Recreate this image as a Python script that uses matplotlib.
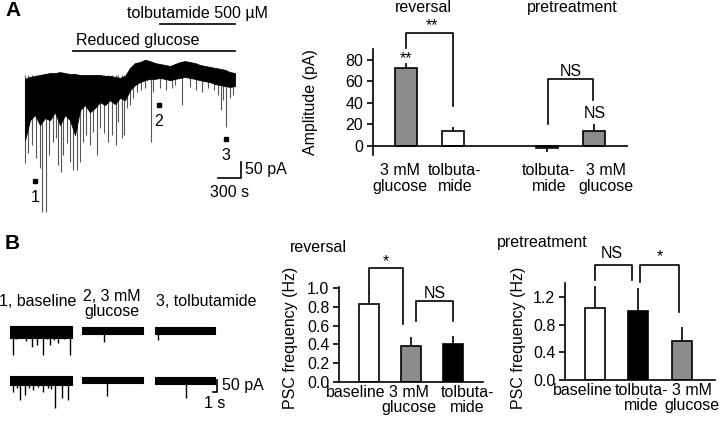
import numpy as np
import matplotlib
matplotlib.use("Agg")
import matplotlib.pyplot as plt

plt.rcParams['font.family'] = ['Liberation Sans', 'DejaVu Sans']
plt.rcParams['font.size'] = 11.5
plt.rcParams['axes.linewidth'] = 1.2

# ---------------- panel A, long recording (time s, current pA) ----------------
a_t = [0, 65, 130, 195, 260, 325, 390, 455, 520, 585, 650, 715, 780, 845, 910,
       975, 1040, 1105, 1170, 1235, 1300, 1365, 1430, 1495, 1560, 1625, 1690,
       1755, 1820, 1885, 1950, 2015, 2080, 2145, 2210, 2275, 2340, 2405, 2470,
       2535, 2600, 2665, 2730]
a_top = [-12, -6, -3, 0, 3, 6, 6, 9, 6, 3, 3, 0, 0, 0, 0, 0, -3, -3, -6, -9,
         -3, 22, 37, 40, 47, 43, 37, 34, 31, 28, 34, 40, 43, 40, 37, 31, 28, 25,
         22, 19, 16, 9, 6]
a_bot = [-202, -140, -124, -155, -133, -140, -115, -155, -124, -140, -186, -109,
         -93, -115, -102, -84, -93, -78, -90, -71, -78, -47, -31, -22, -16, -12,
         -12, -9, -12, -16, -12, -9, -6, -9, -12, -16, -19, -22, -28, -31, -34,
         -37, -34]
# individual large events (time, peak)
a_spk_t = [0, 39, 91, 143, 195, 221, 273, 312, 364, 403, 429, 468, 494, 546,
           585, 624, 676, 715, 754, 793, 845, 884, 936, 975, 1027, 1079, 1131,
           1183, 1209, 1261, 1287, 1326, 1365, 1404, 1456, 1508, 1560, 1638,
           1664, 1755, 1833, 1911, 1950, 2041, 2145, 2223, 2301, 2379, 2457,
           2509, 2548, 2574, 2613, 2665, 2704]
a_spk_i = [-273, -242, -217, -257, -288, -425, -425, -248, -208, -195, -279,
           -301, -248, -211, -270, -295, -295, -270, -208, -186, -217, -177,
           -248, -164, -180, -208, -186, -217, -146, -195, -186, -102, -93, -71,
           -53, -47, -40, -208, -53, -40, -47, -40, -31, -93, -37, -47, -53,
           -40, -47, -62, -109, -78, -161, -71, -62]
glucose_on, tolb_on, rec_end = 624, 1755, 2730
sample_t = [130, 1742, 2613]
sample_i = [-329, -93, -198]
sample_lab = ['1', '2', '3']

# ---------------- panel A, amplitude bars ----------------
a_pos = [0, 1, 3, 4]
a_amp = [72, 13.5, -2, 13.5]
a_sem = [5, 4, 3.5, 7]
a_col = ['#8c8c8c', 'white', '#8c8c8c', '#8c8c8c']
a_lab = ['3 mM\nglucose', 'tolbuta-\nmide', 'tolbuta-\nmide', '3 mM\nglucose']
a_lab_pos = [-0.13, 1.04, 3.04, 4.26]
# brackets: x0, x1, top, left end, right end, label, label x, label y
a_brk = [(0, 1, 105, 91, 37, '**', 0.55, 112),
         (3.02, 3.98, 62, 20, 43, 'NS', 3.5, 69)]
a_marks = [(0, 81, '**'), (4.02, 30, 'NS')]

# ---------------- panel B, example traces (time s, current pA) ----------------
b_names = ['1, baseline', '2, 3 mM\nglucose', '3, tolbutamide']
b_dur = [15.5, 15.25, 15.0]
b_band = [[(4, -46), (0, -29), (0, -29)],
          [(4, -33), (0, -25), (0, -29)]]
b_spk_t = [[[0.75, 1.5, 3.0, 4.0, 5.5, 6.75, 8.25, 9.25, 10.0, 11.0, 12.0, 13.5, 15.0],
            [5.5], [0.75]],
           [[0.75, 1.75, 2.5, 3.75, 4.75, 5.75, 7.0, 8.25, 9.5, 10.25, 11.25, 13.0, 14.5],
            [6.25], [7.75]]]
b_spk_i = [[[-117, -50, -46, -58, -83, -75, -117, -50, -75, -54, -67, -50, -117],
            [-63], [-54]],
           [[-63, -46, -96, -75, -46, -54, -42, -63, -46, -50, -129, -88, -96],
            [-79], [-88]]]

# ---------------- panel B, PSC frequency ----------------
rev_lab = ['baseline', '3 mM\nglucose', 'tolbuta-\nmide']
rev_lab_pos = [-0.31, 0.96, 2.33]
rev_val = [0.83, 0.38, 0.40]
rev_sem = [0.13, 0.10, 0.09]
rev_col = ['white', '#8c8c8c', 'black']
rev_brk = [(0, 0.81, 1.21, 0.96, 0.62, '*', 0.4, 1.28),
           (1.12, 2.0, 0.86, 0.65, 0.65, 'NS', 1.57, 0.94)]

pre_lab = ['baseline', 'tolbuta-\nmide', '3 mM\nglucose']
pre_lab_pos = [-0.28, 1.07, 2.22]
pre_val = [1.04, 1.0, 0.56]
pre_sem = [0.32, 0.33, 0.20]
pre_col = ['white', 'black', '#8c8c8c']
pre_brk = [(0, 0.85, 1.66, 1.44, 1.44, 'NS', 0.39, 1.83),
           (1.03, 1.93, 1.66, 1.42, 0.98, '*', 1.49, 1.78)]

fig = plt.figure(figsize=(7.2, 4.23), dpi=100)


def px_axes(x0, y0, x1, y1):
    return fig.add_axes([x0 / 720, 1 - y1 / 423, (x1 - x0) / 720, (y1 - y0) / 423])


def bracket(ax, b):
    x0, x1, top, y0, y1, lab, lx, ly = b
    ax.plot([x0, x0, x1, x1], [y0, top, top, y1], color='k', lw=1.2, clip_on=False)
    ax.text(lx, ly, lab, ha='center', va='center', clip_on=False)


def bars(ax, pos, val, sem, col, width):
    ax.bar(pos, val, width=width, color=col, edgecolor='k', lw=1.2, zorder=2)
    tips = [v + np.sign(v) * s for v, s in zip(val, sem)]
    ax.vlines(pos, val, tips, color='k', lw=1.2, zorder=1)
    for s in ['top', 'right']:
        ax.spines[s].set_visible(False)
    ax.tick_params(axis='y', direction='out', length=4, width=1.2, pad=3)
    ax.tick_params(axis='x', length=0)


# A trace
ax = px_axes(0, 0, 290, 215)
ax.set_xlim(-325, 3445)
ax.set_ylim(-434, 232.5)
ax.axis('off')
ax.vlines(a_spk_t, a_spk_i, 0, color='#555555', lw=0.8, zorder=1)
ax.fill_between(a_t, a_bot, a_top, color='k', lw=0.6, zorder=2)
ax.plot([glucose_on, rec_end], [74, 74], color='k', lw=1.2)
ax.text(glucose_on + 40, 108, 'Reduced glucose', va='center')
ax.plot([tolb_on, rec_end], [158, 158], color='k', lw=1.2)
ax.text(1326, 192, 'tolbutamide 500 µM', va='center')
ax.plot(sample_t, sample_i, 's', ms=2.3, color='k')
for t, i, s in zip(sample_t, sample_i, sample_lab):
    ax.text(t, i - 50, s, ha='center', va='center')
ax.plot([2509, 2809, 2809], [-319, -319, -269], color='k', lw=1.2)
ax.text(2861, -294, '50 pA', va='center')
ax.text(2665, -363, '300 s', ha='center', va='center')

# A bars
axa = px_axes(373, 49, 628, 155)
bars(axa, a_pos, a_amp, a_sem, a_col, 0.47)
axa.spines['bottom'].set_visible(False)
axa.axhline(0, color='k', lw=1.2)
axa.set_xlim(-0.70, 4.72)
axa.set_ylim(-8.4, 90)
axa.set_yticks([0, 20, 40, 60, 80])
axa.set_xticks(a_lab_pos, a_lab, linespacing=1.05)
axa.tick_params(axis='x', pad=6)
axa.set_ylabel('Amplitude (pA)', va='center')
axa.yaxis.set_label_coords(-0.247, 0.5)
for b in a_brk:
    bracket(axa, b)
for x, y, s in a_marks:
    axa.text(x, y, s, ha='center', va='center')
axa.text(0.38, 1.387, 'reversal', ha='center', va='center',
         transform=axa.get_xaxis_transform())
axa.text(3.53, 1.387, 'pretreatment', ha='center', va='center',
         transform=axa.get_xaxis_transform())

# B traces
axt = px_axes(0, 280, 280, 415)
axt.set_xlim(-2.5, 67.5)
axt.set_ylim(-367, 196)
axt.axis('off')
offs = [0, 18, 36.25]
rows = [0, -208]
for r, r0 in enumerate(rows):
    for k, x0 in enumerate(offs):
        top, bot = b_band[r][k]
        st = [x0 + t for t in b_spk_t[r][k]]
        axt.vlines(st, [r0 + v for v in b_spk_i[r][k]], r0, color='k', lw=1.0)
        axt.fill_between([x0, x0 + b_dur[k]], r0 + bot, r0 + top, color='k', lw=0.8)
axt.text(7, 108, b_names[0], ha='center', va='center')
axt.text(25.5, 96, b_names[1], ha='center', va='center', linespacing=1.0)
axt.text(49, 108, b_names[2], ha='center', va='center')
axt.plot([50.75, 51.75, 51.75], [-271, -271, -221], color='k', lw=1.2)
axt.text(53, -242, '50 pA', va='center')
axt.text(51.25, -317, '1 s', ha='center', va='center')

# B reversal
axr = px_axes(339, 287, 483, 382)
bars(axr, [0, 1, 2], rev_val, rev_sem, rev_col, 0.48)
axr.set_xlim(-0.71, 2.71)
axr.set_ylim(0, 1.01)
axr.set_yticks([0, 0.2, 0.4, 0.6, 0.8, 1.0], ['0.0', '0.2', '0.4', '0.6', '0.8', '1.0'])
axr.set_xticks(rev_lab_pos, rev_lab, linespacing=1.05)
axr.tick_params(axis='x', pad=2)
axr.set_ylabel('PSC frequency (Hz)', va='center')
axr.yaxis.set_label_coords(-0.34, 0.463)
for b in rev_brk:
    bracket(axr, b)
axr.text(-0.34, 1.42, 'reversal', va='center', transform=axr.transAxes)

# B pretreatment
axp = px_axes(565, 283, 715, 380)
bars(axp, [0, 1, 2], pre_val, pre_sem, pre_col, 0.46)
axp.set_xlim(-0.69, 2.76)
axp.set_ylim(0, 1.40)
axp.set_yticks([0, 0.4, 0.8, 1.2], ['0.0', '0.4', '0.8', '1.2'])
axp.set_xticks(pre_lab_pos, pre_lab, linespacing=1.05)
axp.tick_params(axis='x', pad=2)
axp.set_ylabel('PSC frequency (Hz)', va='center')
axp.yaxis.set_label_coords(-0.307, 0.433)
for b in pre_brk:
    bracket(axp, b)
axp.text(-0.453, 1.42, 'pretreatment', va='center', transform=axp.transAxes)

fig.text(5 / 720, 1 - 11 / 423, 'A', weight='bold', size=15, va='center')
fig.text(5 / 720, 1 - 243 / 423, 'B', weight='bold', size=15, va='center')

fig.savefig('out.png', dpi=100)
